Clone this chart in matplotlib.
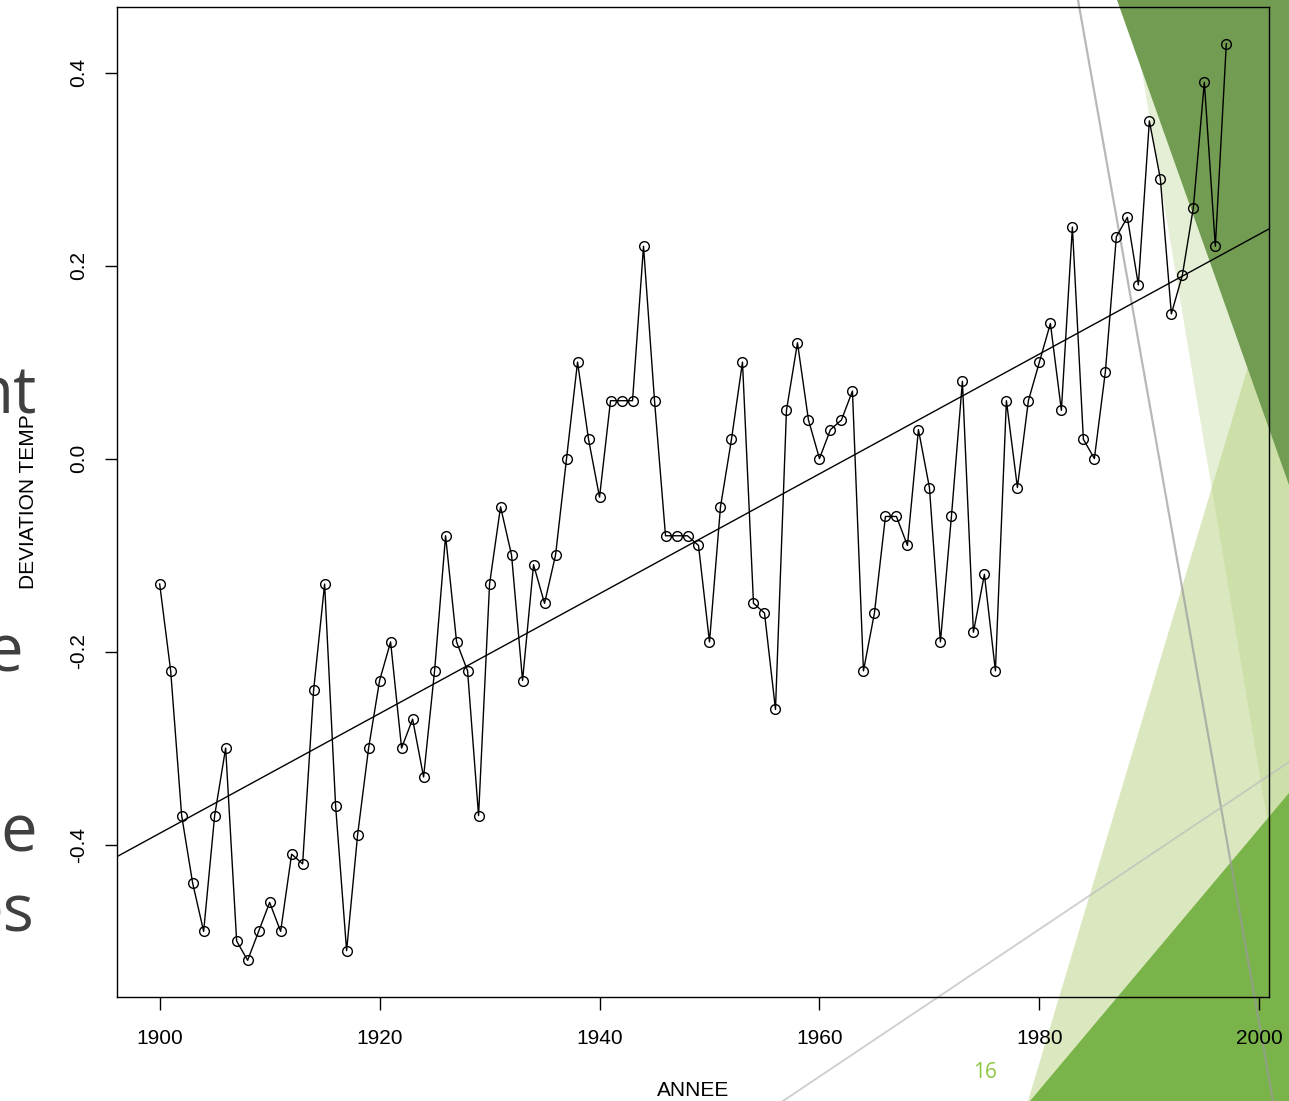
import numpy as np
import matplotlib
matplotlib.use("Agg")
import matplotlib.pyplot as plt
from matplotlib.patches import Polygon

# ---------------- data ----------------
annee = list(range(1900, 1998))
deviation = [
    -0.13, -0.22, -0.37, -0.44, -0.49, -0.37, -0.30, -0.50, -0.52, -0.49,
    -0.46, -0.49, -0.41, -0.42, -0.24, -0.13, -0.36, -0.51, -0.39, -0.30,
    -0.23, -0.19, -0.30, -0.27, -0.33, -0.22, -0.08, -0.19, -0.22, -0.37,
    -0.13, -0.05, -0.10, -0.23, -0.11, -0.15, -0.10, 0.00, 0.10, 0.02,
    -0.04, 0.06, 0.06, 0.06, 0.22, 0.06, -0.08, -0.08, -0.08, -0.09,
    -0.19, -0.05, 0.02, 0.10, -0.15, -0.16, -0.26, 0.05, 0.12, 0.04,
    0.00, 0.03, 0.04, 0.07, -0.22, -0.16, -0.06, -0.06, -0.09, 0.03,
    -0.03, -0.19, -0.06, 0.08, -0.18, -0.12, -0.22, 0.06, -0.03, 0.06,
    0.10, 0.14, 0.05, 0.24, 0.02, 0.00, 0.09, 0.23, 0.25, 0.18,
    0.35, 0.29, 0.15, 0.19, 0.26, 0.39, 0.22, 0.43,
]
x_ticks = [1900, 1920, 1940, 1960, 1980, 2000]
y_ticks = [-0.4, -0.2, 0.0, 0.2, 0.4]
y_ticklabels = ["-0.4", "-0.2", "0.0", "0.2", "0.4"]
slide_fragments = ["nt", "e", "e", "es"]

W, H = 1289, 1101
fig = plt.figure(figsize=(W / 100, H / 100), dpi=100)
fig.patch.set_facecolor("white")

# ---------------- slide background decorations ----------------
bg = fig.add_axes([0, 0, 1, 1], zorder=0)
bg.set_xlim(0, W)
bg.set_ylim(H, 0)
bg.axis("off")

# light strip
bg.add_patch(Polygon([(1130, 0), (1289, 0), (1289, 950)], closed=True,
                     facecolor="#e5efd5", edgecolor="none"))
# light triangle from bottom
bg.add_patch(Polygon([(1028, 1101), (1289, 230), (1289, 1101)], closed=True,
                     facecolor="#b9d381", alpha=0.5, edgecolor="none"))
# medium green bottom triangle
bg.add_patch(Polygon([(1030, 1101), (1289, 793), (1289, 1101)], closed=True,
                     facecolor="#7ab34a", edgecolor="none"))
# dark green top triangle
bg.add_patch(Polygon([(1117, 0), (1289, 0), (1289, 485)], closed=True,
                     facecolor="#719c51", edgecolor="none"))
# thin gray lines
bg.plot([1078, 1273], [0, 1101], color="#9a9a9a", lw=1.6, alpha=0.7)
bg.plot([783, 1289], [1101, 762], color="#bdbdbd", lw=1.4, alpha=0.7)

# slide text fragments peeking on the left (clipped by the slide edge, as in the reference)
frag_pos = [(37, 413), (23, 672), (37, 852), (34, 931)]
for t, (xr, yb) in zip(slide_fragments, frag_pos):
    bg.text(xr, yb, t, ha="right", va="baseline", fontsize=47,
            family="Open Sans", color="#404040")

bg.text(985, 1072, "16", ha="center", va="center", fontsize=15,
        family="Open Sans", color="#8cc63e")

# ---------------- R-style plot ----------------
ax = fig.add_axes([117 / W, 1 - 997 / H, (1269 - 117) / W, (997 - 7) / H], zorder=1)
ax.patch.set_alpha(0)

ax.plot(annee, deviation, color="black", lw=1.0, marker="o", markersize=7,
        markerfacecolor="none", markeredgecolor="black", markeredgewidth=1.0)

slope, intercept = np.polyfit(annee, deviation, 1)
ax.axline((annee[0], intercept + slope * annee[0]), slope=slope, color="black", lw=1.0)

xr = max(annee) - min(annee)
ax.set_xlim(min(annee) - 0.04 * xr, max(annee) + 0.04 * xr)
yr = max(deviation) - min(deviation)
ax.set_ylim(min(deviation) - 0.04 * yr, max(deviation) + 0.04 * yr)

ax.set_xticks(x_ticks)
ax.set_xticklabels([str(v) for v in x_ticks], family="Liberation Sans", fontsize=15)
ax.set_yticks(y_ticks)
ax.set_yticklabels(y_ticklabels, family="Liberation Sans", fontsize=15,
                   rotation=90, va="center")
ax.tick_params(axis="both", direction="out", length=9, width=1.0, color="black")
ax.tick_params(axis="x", pad=14)
ax.tick_params(axis="y", pad=12)
for s in ax.spines.values():
    s.set_linewidth(1.0)
    s.set_color("black")

fig.text(693 / W, 1 - 1090 / H, "ANNEE", ha="center", va="center",
         family="Liberation Sans", fontsize=15)
fig.text(28 / W, 1 - 502 / H, "DEVIATION TEMP", ha="center", va="center",
         rotation=90, family="Liberation Sans", fontsize=15)

fig.savefig("out.png", dpi=100)
